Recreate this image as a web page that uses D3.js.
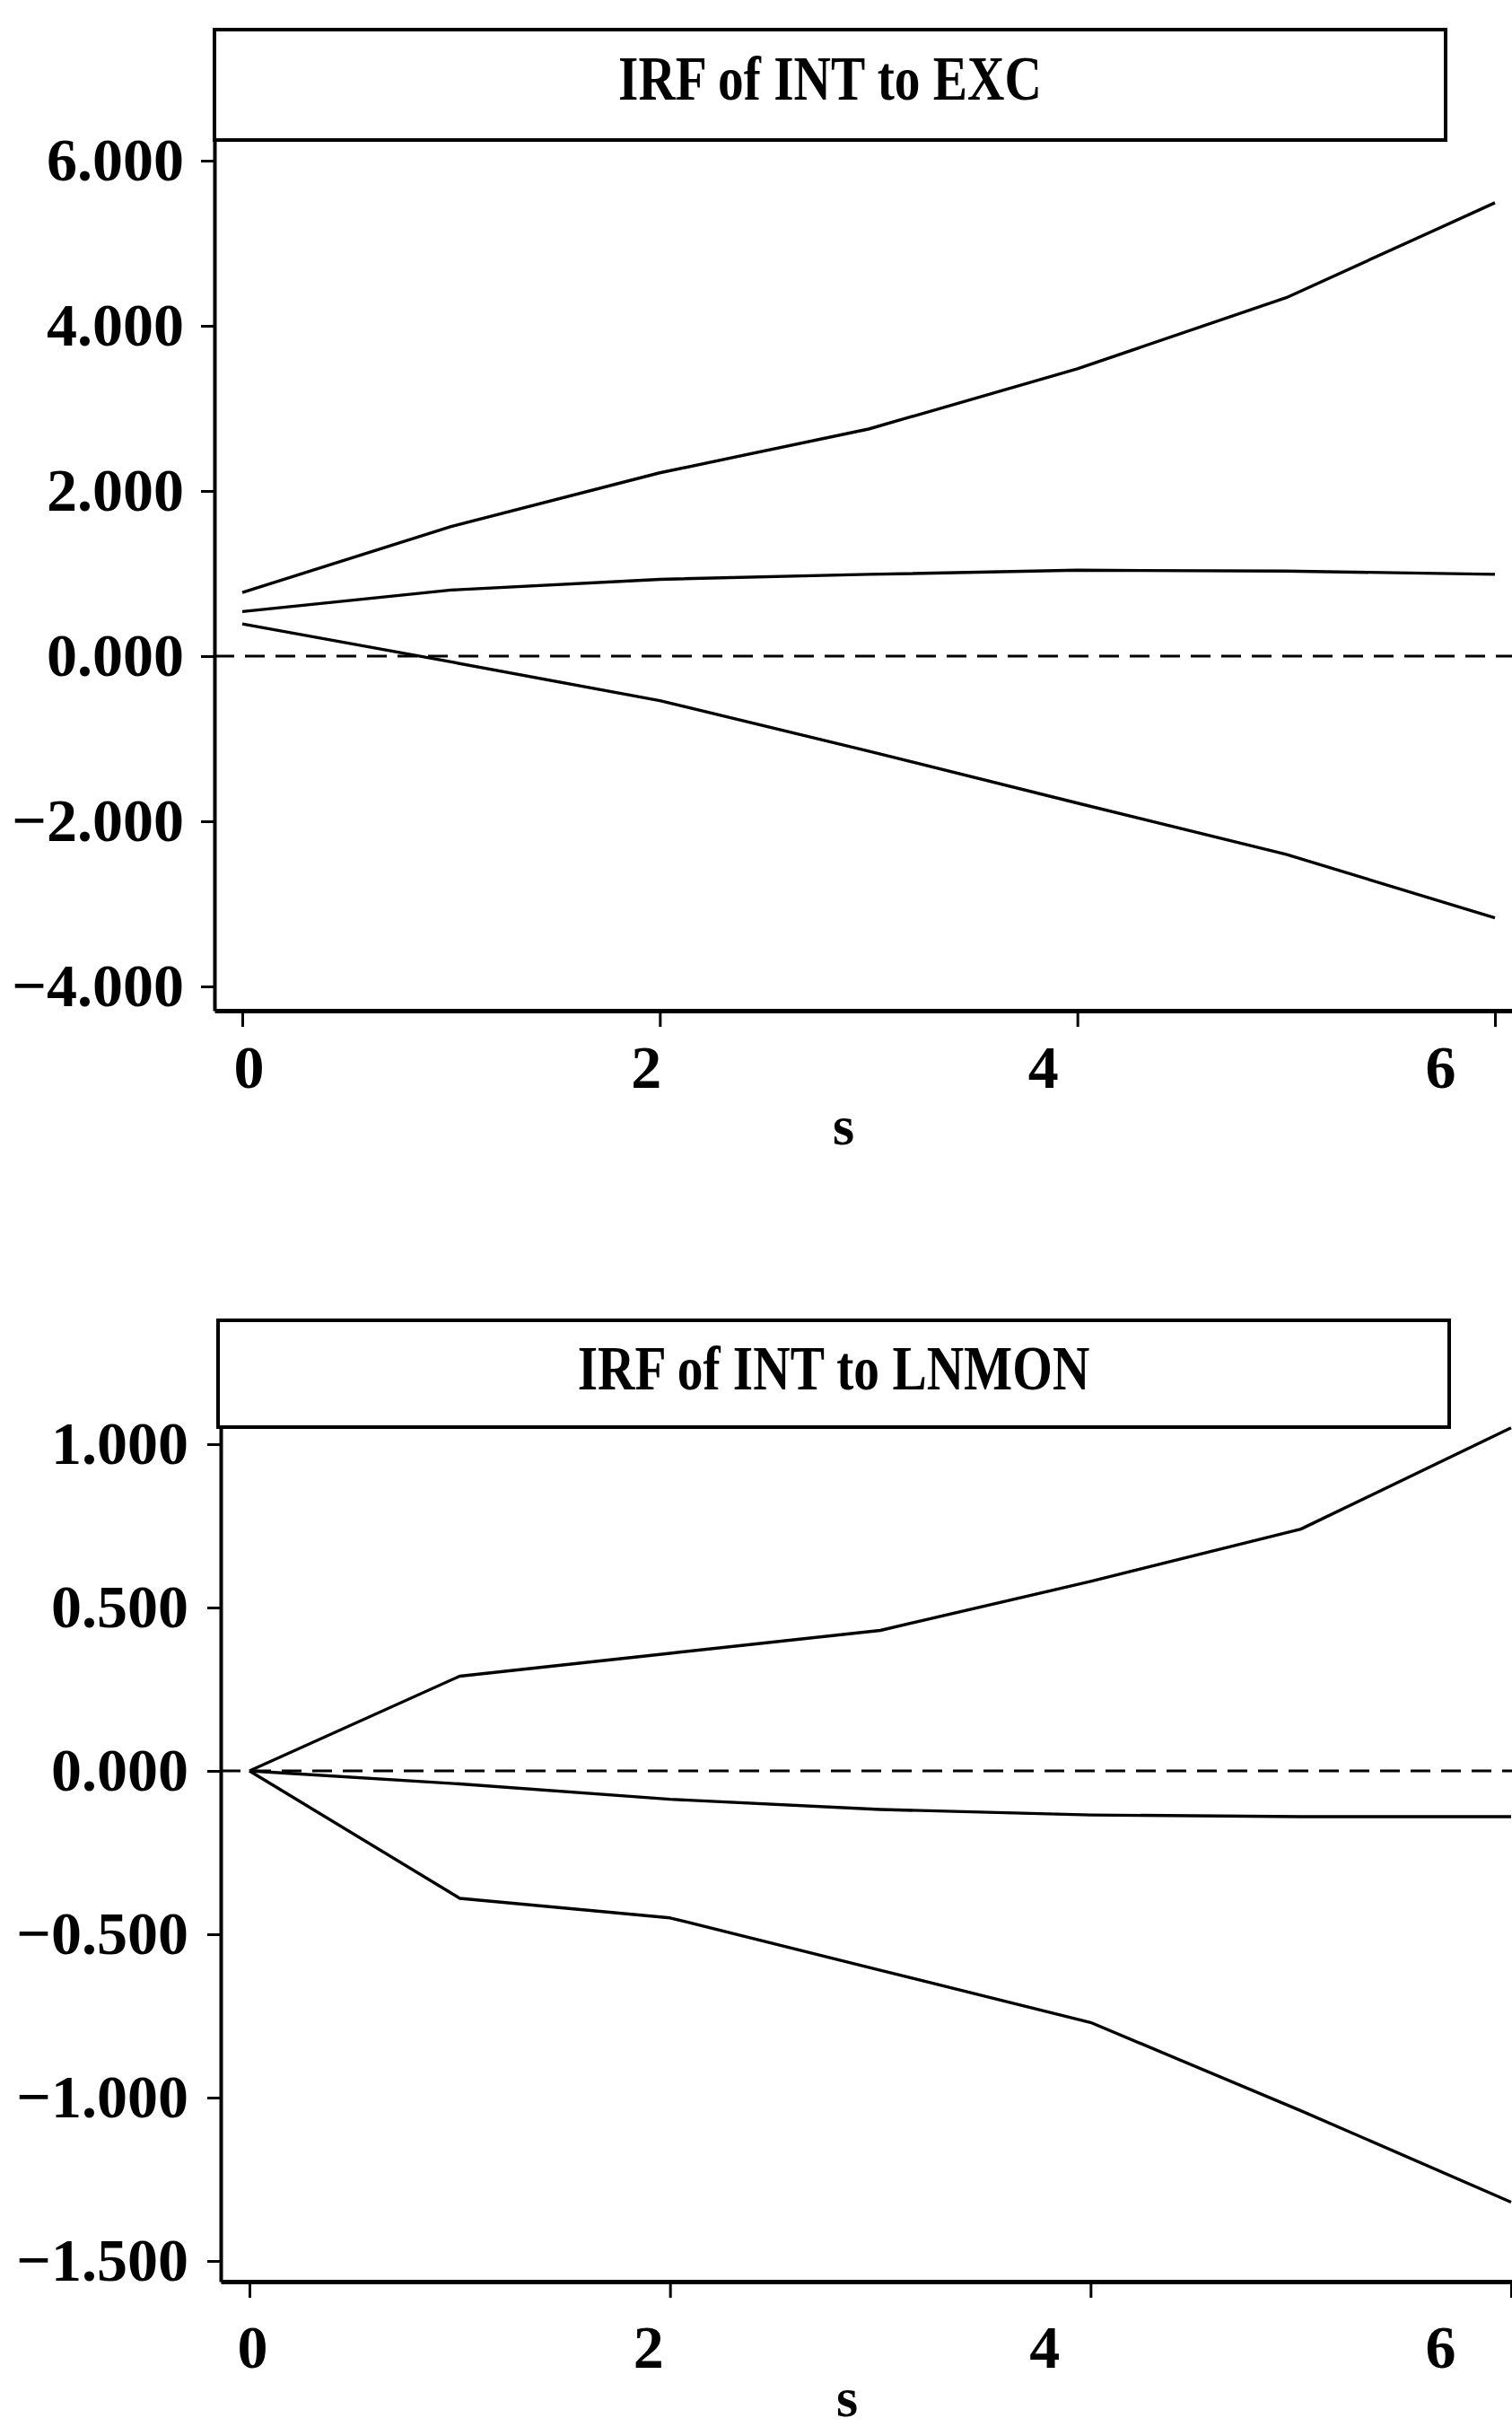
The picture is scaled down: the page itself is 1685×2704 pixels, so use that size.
<!DOCTYPE html>
<meta charset="utf-8">
<style>
html,
body {
    margin: 0;
    padding: 0;
    background: #fff;
}

svg {
    display: block;
    background: #fff;
}

text {
    font-family: "Liberation Serif", "Times New Roman", serif;
    font-weight: bold;
    fill: #000;
}

.axis text {
    font-size: 68px;
}

.axis path,
.axis line {
    stroke: #000;
}

.title {
    font-size: 70px;
}

.xlabel {
    font-size: 62px;
}
</style>
<svg width="1685" height="2704"></svg>
<script src="https://d3js.org/d3.v7.min.js"></script>
<script>
// horizon s = 0..6
var steps = [0, 1, 2, 3, 4, 5, 6];

// IRF of INT to EXC
var excUpper = [0.77, 1.57, 2.22, 2.75, 3.48, 4.34, 5.49];
var excIrf = [0.54, 0.80, 0.93, 0.99, 1.04, 1.03, 0.99];
var excLower = [0.39, -0.07, -0.54, -1.15, -1.78, -2.40, -3.17];

// IRF of INT to LNMON
var lnmonUpper = [0, 0.29, 0.36, 0.43, 0.58, 0.74, 1.05];
var lnmonIrf = [0, -0.04, -0.087, -0.118, -0.135, -0.14, -0.14];
var lnmonLower = [0, -0.39, -0.45, -0.61, -0.77, -1.04, -1.32];

var xTicks = [0, 2, 4, 6];
var excTicks = [6, 4, 2, 0, -2, -4];
var lnmonTicks = [1, 0.5, 0, -0.5, -1, -1.5];

var W = 1685;
var svg = d3.select("svg");

var panels = [{
    title: "IRF of INT to EXC",
    series: [excUpper, excIrf, excLower],
    yTicks: excTicks,
    x0: 270, x6: 1666,
    yA: -4, yApx: 1099, yB: 6, yBpx: 179,
    left: 239, bottom: 1126, top: 156,
    box: [239, 33, 1611, 156], titleY: 111,
    labelRange: [277, 1605], labelY: 1212,
    sX: 940, sY: 1275,
    tickPad: 19
}, {
    title: "IRF of INT to LNMON",
    series: [lnmonUpper, lnmonIrf, lnmonLower],
    yTicks: lnmonTicks,
    x0: 278, x6: 1684,
    yA: -1.5, yApx: 2519, yB: 1, yBpx: 1609,
    left: 246, bottom: 2542, top: 1590,
    box: [243, 1471, 1615, 1590], titleY: 1548,
    labelRange: [281, 1605], labelY: 2638,
    sX: 944, sY: 2692,
    tickPad: 21
}];

panels.forEach(drawPanel);

function drawPanel(p) {
    var x = d3.scaleLinear().domain([0, 6]).range([p.x0, p.x6]);
    x.domain([x.invert(p.left), x.invert(W)]).range([p.left, W]);

    var y = d3.scaleLinear().domain([p.yA, p.yB]).range([p.yApx, p.yBpx]);
    y.domain([y.invert(p.bottom), y.invert(p.top)]).range([p.bottom, p.top]);

    var g = svg.append("g");

    // zero reference
    g.append("line")
        .attr("x1", p.left)
        .attr("x2", W)
        .attr("y1", y(0))
        .attr("y2", y(0))
        .attr("stroke", "#000")
        .attr("stroke-width", 3)
        .attr("stroke-dasharray", "22,12");

    var line = d3.line()
        .x(function(d, i) { return x(steps[i]); })
        .y(function(d) { return y(d); });

    g.selectAll("path.irf")
        .data(p.series)
        .enter().append("path")
        .attr("class", "irf")
        .attr("d", line)
        .attr("fill", "none")
        .attr("stroke", "#000")
        .attr("stroke-width", 3.4)
        .attr("stroke-linejoin", "round");

    var yAxis = g.append("g")
        .attr("class", "axis")
        .attr("transform", "translate(" + p.left + ",0)")
        .call(d3.axisLeft(y)
            .tickValues(p.yTicks)
            .tickFormat(d3.format(".3f"))
            .tickSizeInner(15)
            .tickSizeOuter(0)
            .tickPadding(p.tickPad));
    yAxis.select(".domain").attr("stroke-width", 4);
    yAxis.selectAll(".tick line").attr("stroke-width", 3);

    var xAxis = g.append("g")
        .attr("class", "axis")
        .attr("transform", "translate(0," + p.bottom + ")")
        .call(d3.axisBottom(x)
            .tickValues(xTicks)
            .tickFormat("")
            .tickSizeInner(18)
            .tickSizeOuter(0));
    xAxis.select(".domain").attr("stroke-width", 5);
    xAxis.selectAll(".tick line").attr("stroke-width", 3);

    // tick labels sit a little off the tick marks in the original
    var xl = d3.scaleLinear().domain([0, 6]).range(p.labelRange);
    var labels = g.append("g")
        .attr("class", "axis")
        .attr("transform", "translate(0," + p.bottom + ")")
        .call(d3.axisBottom(xl)
            .tickValues(xTicks)
            .tickFormat(d3.format("d"))
            .tickSize(0)
            .tickPadding(0));
    labels.select(".domain").remove();
    labels.selectAll("text")
        .attr("dy", null)
        .attr("y", p.labelY - p.bottom);

    g.append("text")
        .attr("class", "xlabel")
        .attr("x", p.sX)
        .attr("y", p.sY)
        .attr("text-anchor", "middle")
        .text("s");

    // title box
    g.append("rect")
        .attr("x", p.box[0])
        .attr("y", p.box[1])
        .attr("width", p.box[2] - p.box[0])
        .attr("height", p.box[3] - p.box[1])
        .attr("fill", "#fff")
        .attr("stroke", "#000")
        .attr("stroke-width", 4);

    g.append("text")
        .attr("class", "title")
        .attr("text-anchor", "middle")
        .attr("transform", "translate(" + ((p.box[0] + p.box[2]) / 2) + "," + p.titleY + ") scale(0.82,1)")
        .text(p.title);
}
</script>
